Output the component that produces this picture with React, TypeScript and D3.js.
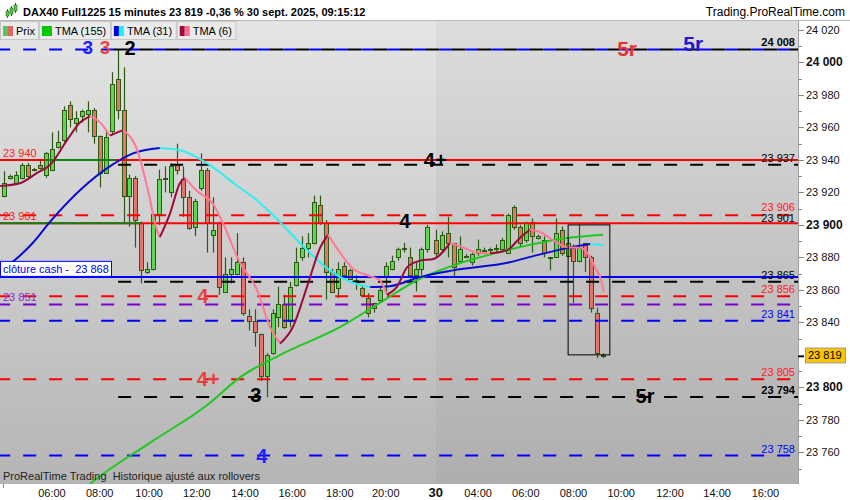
import React from 'react';
import * as d3 from 'd3';

const FONT = '"Liberation Sans", Arial, Helvetica, sans-serif';

// ---- data -----------------------------------------------------------
// candles: [open, high, low, close]; day 29 (04:00 -> 21:45), day 30 (-> 09:15)
const day29Start = 0;
const day29Candles: number[][] = [
  [23918, 23933, 23917, 23926], [23929, 23931, 23928, 23930], [23926, 23933, 23925, 23931], [23929, 23938, 23928, 23937],
  [23937, 23938, 23929, 23930], [23934, 23935, 23933, 23934.5], [23937, 23940, 23934, 23935], [23931, 23945, 23929, 23944],
  [23934, 23957, 23933, 23947], [23948, 23958, 23947, 23951], [23952, 23973, 23951, 23971], [23974, 23976, 23960, 23965],
  [23963, 23970, 23957, 23966], [23967, 23971, 23963, 23970], [23968, 23976, 23957, 23971], [23971, 23972, 23950, 23955],
  [23955, 23955, 23923, 23932], [23932, 23957, 23932, 23954], [23958, 23994, 23956, 23987], [23990, 24008, 23965, 23971],
  [23971, 23997, 23901, 23918], [23918, 23931, 23899, 23929], [23929, 23930, 23886, 23903], [23901, 23902, 23864, 23872],
  [23871, 23877, 23870, 23873], [23873, 23907, 23872, 23907], [23907, 23934, 23900, 23928], [23928, 23936, 23920, 23929],
  [23920, 23938, 23917, 23936], [23937, 23950, 23931, 23934], [23928, 23936, 23905, 23917], [23917, 23921, 23897, 23898],
  [23899, 23916, 23893, 23915], [23923, 23944, 23921, 23934], [23934, 23935, 23883, 23901], [23894, 23917, 23883, 23897],
  [23901, 23902, 23857, 23862], [23859, 23880, 23858, 23870], [23870, 23880, 23864, 23873], [23870, 23895, 23869, 23877],
  [23877, 23880, 23844, 23846], [23844, 23848, 23835, 23841], [23841, 23848, 23825, 23834], [23833, 23833, 23804, 23807],
  [23807, 23821, 23794, 23820], [23821, 23848, 23820, 23846], [23843, 23862, 23837, 23851], [23851, 23857, 23836, 23837],
  [23841, 23865, 23837, 23862], [23863, 23886, 23862, 23877], [23880, 23893, 23878, 23886], [23886, 23895, 23880, 23889],
  [23889, 23918, 23888, 23914], [23912, 23918, 23900, 23901], [23901, 23903, 23854, 23871], [23871, 23873, 23858, 23859],
  [23861, 23877, 23855, 23873], [23875, 23877, 23868, 23869], [23872, 23873, 23866, 23867], [23866, 23869, 23860, 23864],
  [23861, 23863, 23856, 23857], [23855, 23858, 23843, 23846], [23852, 23852, 23846, 23849], [23854, 23862, 23852, 23860],
  [23868, 23877, 23858, 23875], [23873, 23881, 23872, 23878], [23880, 23886, 23878, 23885], [23885, 23889, 23883, 23886],
  [23880, 23886, 23867, 23869], [23869, 23877, 23859, 23873], [23873, 23886, 23869, 23885], [23885, 23900, 23883, 23899],
];
const day30Start = 72.5;
const day30Candles: number[][] = [
  [23891, 23897, 23880, 23883], [23885, 23896, 23883, 23894], [23895, 23905, 23880, 23889], [23889, 23889, 23868, 23874],
  [23878, 23893, 23877, 23885], [23880.5, 23882, 23879.5, 23881], [23877, 23883, 23875, 23882], [23883, 23891, 23881, 23885],
  [23884, 23886, 23883, 23884.5], [23884.5, 23886, 23883, 23885], [23885, 23888, 23883, 23886], [23885, 23892, 23883, 23891],
  [23883, 23907, 23882, 23906], [23911, 23912, 23897, 23899], [23899, 23900, 23886, 23889], [23891, 23902, 23889, 23901],
  [23902, 23904, 23883, 23893], [23892, 23894, 23891, 23893], [23891, 23893, 23880, 23883], [23879.5, 23880, 23872, 23880],
  [23880, 23904, 23880, 23895], [23897, 23899, 23881, 23883], [23881, 23891, 23880, 23889], [23886, 23888, 23852, 23878],
  [23878, 23900, 23877, 23886], [23889, 23889, 23871, 23880], [23880, 23881, 23846, 23849], [23846, 23849, 23818, 23821],
  [23820, 23821, 23818, 23819],
];

// moving averages: [bar index, value]
const tma155: number[][] = [
  [12, 23733], [14.9, 23742], [24.5, 23766], [34, 23789], [39.5, 23806], [46.3, 23820], [56.3, 23837], [63, 23852],
  [69.8, 23867], [75.3, 23875], [84.4, 23884.5], [94.4, 23892], [100.5, 23894],
];
const tma31: number[][] = [
  [-0.7, 23872], [1.3, 23877], [4.8, 23889], [7.7, 23902], [13.2, 23923], [17.7, 23936], [21.6, 23944], [26.1, 23947.3],
  [29.5, 23946], [34, 23938], [38.4, 23926], [42.4, 23915], [45.1, 23906], [50.8, 23884.5], [54.6, 23872], [58, 23865],
  [61.4, 23861.7], [64.7, 23862.3], [69.8, 23868], [75.3, 23872], [84.8, 23877], [89.4, 23881.4], [94.4, 23885.7],
  [98.3, 23888.2], [100.5, 23887.6],
];
const tma6: number[][] = [
  [-0.7, 23924], [2.6, 23925.7], [5.5, 23932], [7.7, 23937], [10.5, 23952], [12.7, 23963], [14.4, 23967], [16.1, 23963],
  [17.7, 23955], [19.9, 23958.4], [22.3, 23946], [24, 23923], [25.6, 23897], [26.1, 23892.5], [27.8, 23907], [29.5, 23926],
  [30.3, 23929], [32.3, 23921], [35, 23913], [36.7, 23901], [39.5, 23877], [42.4, 23860], [44.6, 23837], [46.3, 23827],
  [48.4, 23837], [50.8, 23862], [53, 23886], [54.3, 23894], [56.3, 23883], [58.5, 23873], [60.9, 23869], [63, 23866],
  [64.2, 23857], [65.9, 23862], [67.6, 23874], [69.8, 23878], [72, 23879], [74.8, 23889], [77, 23886], [79.3, 23883],
  [81.5, 23882.5], [84.4, 23884.5], [86.5, 23892], [88.2, 23897], [89.9, 23895.6], [92.1, 23890.6], [94.4, 23886.3],
  [96.6, 23886], [97.8, 23883], [99.1, 23874], [100.3, 23864], [100.6, 23858.6],
];

// horizontal levels
const solidLevels = [
  { price: 23940, color: '#ff0000' },
  { price: 23901, color: '#ff0000' },
  { price: 23868, color: '#0000ff' },
];
const greenSegments = [
  { price: 23940, from: 6.8, to: 18.6 },
  { price: 23901, from: -1.5, to: 23.1 },
];
const dashedLevels = [
  { price: 24008, color: '#0000ff', from: -1.2 },
  { price: 24008, color: '#000000', from: 18.4 },
  { price: 23937, color: '#000000', from: 19.1 },
  { price: 23906, color: '#ff0000', from: -1.2 },
  { price: 23865, color: '#000000', from: 19.1 },
  { price: 23856, color: '#ff0000', from: -1.2 },
  { price: 23851, color: '#7a00cc', from: -1.2 },
  { price: 23841, color: '#0000ff', from: -1.2 },
  { price: 23805, color: '#ff0000', from: -1.2 },
  { price: 23794, color: '#000000', from: 19.1 },
  { price: 23758, color: '#0000ff', from: -1.2 },
];
const rightLabels = [
  { price: 24008, text: '24 008', color: '#000000', bold: true, lift: 3 },
  { price: 23937, text: '23 937', color: '#000000', bold: false, lift: 3 },
  { price: 23906, text: '23 906', color: '#ff2020', bold: false, lift: 4.5 },
  { price: 23901, text: '23 901', color: '#000000', bold: false, lift: 1.5 },
  { price: 23865, text: '23 865', color: '#000000', bold: false, lift: 3 },
  { price: 23856, text: '23 856', color: '#ff2020', bold: false, lift: 3 },
  { price: 23841, text: '23 841', color: '#0000ff', bold: false, lift: 3 },
  { price: 23805, text: '23 805', color: '#ff2020', bold: false, lift: 3 },
  { price: 23794, text: '23 794', color: '#000000', bold: true, lift: 3 },
  { price: 23758, text: '23 758', color: '#0000ff', bold: false, lift: 3 },
];
const leftLabels = [
  { price: 23940, text: '23 940', color: '#ff2020' },
  { price: 23901, text: '23 901', color: '#ff2020' },
  { price: 23851, text: '23 851', color: '#8a2be2' },
];
const waveLabels = [
  { i: 14.0, price: 24009, text: '3', color: '#1f1fff', size: 19 },
  { i: 16.9, price: 24009, text: '3', color: '#e84545', size: 19 },
  { i: 21.1, price: 24009, text: '2', color: '#000000', size: 20 },
  { i: 104.5, price: 24008.5, text: '5r', color: '#e83030', size: 21 },
  { i: 115.6, price: 24011.5, text: '5r', color: '#2418cc', size: 21 },
  { i: 72.3, price: 23940, text: '4+', color: '#000000', size: 20 },
  { i: 67.2, price: 23902.5, text: '4', color: '#000000', size: 20 },
  { i: 33.3, price: 23856, text: '4', color: '#e84040', size: 20 },
  { i: 34.2, price: 23805, text: '4+', color: '#e84040', size: 20 },
  { i: 42.2, price: 23795, text: '3', color: '#000000', size: 20 },
  { i: 107.5, price: 23794.5, text: '5r', color: '#000000', size: 20 },
  { i: 43.2, price: 23757.5, text: '4', color: '#1f1fff', size: 20 },
];
const boxRange = { i0: 94.6, i1: 101.6, top: 23900, bottom: 23820 };
const clotureCash = 23868;
const lastPrice = 23819;
const priceTicks = [24020, 24000, 23980, 23960, 23940, 23920, 23900, 23880, 23860, 23840, 23800, 23780, 23760];
const boldTicks = [24000, 23900, 23800];
const timeTicks = [
  { i: 8, label: '06:00' }, { i: 16, label: '08:00' }, { i: 24.3, label: '10:00' }, { i: 32.3, label: '12:00' },
  { i: 40.4, label: '14:00' }, { i: 48.3, label: '16:00' }, { i: 56.3, label: '18:00' }, { i: 64, label: '20:00' },
  { i: 79.5, label: '04:00' }, { i: 87.5, label: '06:00' }, { i: 95.5, label: '08:00' }, { i: 103.5, label: '10:00' },
  { i: 111.7, label: '12:00' }, { i: 119.6, label: '14:00' }, { i: 127.7, label: '16:00' },
];
const dayTick = { i: 72.4, label: '30' };
const legendItems = [
  { label: 'Prix', c1: '#55c855', c2: '#e06464' },
  { label: 'TMA (155)', c1: '#00c800', c2: '#00c800' },
  { label: 'TMA (31)', c1: '#0000dd', c2: '#22eeff' },
  { label: 'TMA (6)', c1: '#9a0a3a', c2: '#ff6a90' },
];

const fmt = (v: number) => `${Math.floor(v / 1000)} ${String(Math.round(v % 1000)).padStart(3, '0')}`;

function runs(pts: number[][]) {
  const out: { dir: number; pts: number[][] }[] = [];
  let cur = [pts[0]];
  let dir = 0;
  for (let k = 1; k < pts.length; k++) {
    const d = pts[k][1] >= pts[k - 1][1] ? 1 : -1;
    if (dir === 0 || d === dir) {
      cur.push(pts[k]);
      dir = d;
    } else {
      out.push({ dir, pts: cur });
      cur = [pts[k - 1], pts[k]];
      dir = d;
    }
  }
  out.push({ dir, pts: cur });
  return out;
}

function measure(text: string, font: string) {
  try {
    const c = document.createElement('canvas').getContext('2d');
    if (c) {
      c.font = font;
      return c.measureText(text).width;
    }
  } catch (e) {
    /* ignore */
  }
  return text.length * 5.6;
}

export default function App() {
  const W = 850, H = 500;
  const PL = 0, PR = 798, PT = 21, PB = 484;
  const xs = d3.scaleLinear().domain([0, 100]).range([4.3, 600.3]);
  const ys = d3.scaleLinear().domain([23760, 24020]).range([452.3, 30]);
  const line = d3.line<number[]>().x((d) => xs(d[0])).y((d) => ys(d[1])).curve(d3.curveMonotoneX);

  const candles = [
    ...day29Candles.map((c, k) => ({ i: day29Start + k, o: c[0], h: c[1], l: c[2], c: c[3] })),
    ...day30Candles.map((c, k) => ({ i: day30Start + k, o: c[0], h: c[1], l: c[2], c: c[3] })),
  ];
  const OUT = '#2c5a12', GREEN = '#5fd654', RED = '#e5746a';

  const maSeries = [
    { pts: tma155, up: '#1ec81e', down: '#1ec81e' },
    { pts: tma31, up: '#0a0ad0', down: '#30eef0' },
    { pts: tma6, up: '#9a0a3a', down: '#ff7895' },
  ];

  const minorTicks = d3.range(23750, 24021, 10);
  const yLast = ys(lastPrice);

  // legend box layout
  let lx = 0;
  const legendBoxes = legendItems.map((it) => {
    const w = measure(it.label, '11px "Liberation Sans", Arial, sans-serif') + 19;
    const b = { ...it, x: lx, w };
    lx += w + 1;
    return b;
  });

  return (
    <svg width={W} height={H} style={{ position: 'absolute', left: 0, top: 0, fontFamily: FONT }}>
      <defs>
        <linearGradient id="bg" x1="0" y1="0" x2="0" y2="1">
          <stop offset="0%" stopColor="#e5e5e5" />
          <stop offset="100%" stopColor="#b5b5b5" />
        </linearGradient>
        <clipPath id="plot">
          <rect x={PL} y={PT} width={PR - PL} height={PB - PT} />
        </clipPath>
      </defs>
      <rect x={0} y={0} width={W} height={H} fill="#ffffff" />
      <rect x={PL} y={PT} width={PR - PL} height={PB - PT} fill="url(#bg)" />
      <rect x={xs(dayTick.i)} y={PT} width={PR - xs(dayTick.i)} height={PB - PT} fill="#000" opacity={0.035} />

      <g clipPath="url(#plot)">
        {/* candles */}
        {candles.map((d, k) => {
          const cx = Math.round(xs(d.i)) + 0.5;
          const up = d.c >= d.o;
          const yTop = Math.round(ys(Math.max(d.o, d.c))) + 0.5;
          const yBot = Math.round(ys(Math.min(d.o, d.c))) + 0.5;
          const hgt = Math.max(1, yBot - yTop);
          return (
            <g key={k}>
              <line x1={cx} x2={cx} y1={ys(d.h)} y2={ys(d.l)} stroke={OUT} strokeWidth={1.2} />
              <rect x={cx - 2} y={yTop} width={4} height={hgt} fill={up ? GREEN : RED} stroke={OUT} strokeWidth={1} />
            </g>
          );
        })}

        {/* solid levels */}
        {solidLevels.map((l, k) => (
          <line key={'s' + k} x1={PL} x2={PR} y1={ys(l.price)} y2={ys(l.price)} stroke={l.color} strokeWidth={2} />
        ))}
        {greenSegments.map((g, k) => (
          <line key={'g' + k} x1={xs(g.from)} x2={xs(g.to)} y1={ys(g.price)} y2={ys(g.price)} stroke="#118011" strokeWidth={2} />
        ))}
        {dashedLevels.map((l, k) => (
          <line key={'d' + k} x1={xs(l.from)} x2={PR} y1={ys(l.price)} y2={ys(l.price)} stroke={l.color} strokeWidth={2} strokeDasharray="13 13" />
        ))}

        {/* moving averages */}
        {maSeries.map((s, k) =>
          runs(s.pts).map((r, j) => (
            <path key={k + '-' + j} d={line(r.pts) || ''} fill="none" stroke={r.dir > 0 ? s.up : s.down} strokeWidth={2} strokeLinejoin="round" />
          ))
        )}

        {/* box */}
        <rect x={xs(boxRange.i0)} y={ys(boxRange.top)} width={xs(boxRange.i1) - xs(boxRange.i0)} height={ys(boxRange.bottom) - ys(boxRange.top)} fill="none" stroke="#000" strokeWidth={1} />

        {/* wave labels */}
        {waveLabels.map((w, k) => (
          <text key={'w' + k} x={xs(w.i)} y={ys(w.price)} textAnchor="middle" dominantBaseline="central" fontSize={w.size} fontWeight="bold" fill={w.color}>
            {w.text}
          </text>
        ))}

        {/* right labels */}
        {rightLabels.map((r, k) => (
          <text key={'r' + k} x={795} y={ys(r.price) - r.lift} textAnchor="end" fontSize={11} fontWeight={r.bold ? 'bold' : 'normal'} fill={r.color}>
            {r.text}
          </text>
        ))}
        {leftLabels.map((r, k) => (
          <text key={'l' + k} x={3} y={ys(r.price) - 3} fontSize={11} fill={r.color}>
            {r.text}
          </text>
        ))}

        {/* cloture cash */}
        <rect x={0.5} y={ys(clotureCash) - 15.5} width={111} height={15} fill="#ffffff" stroke="#0000ff" strokeWidth={1} />
        <text x={3} y={ys(clotureCash) - 4} fontSize={11} fill="#0000ff">{`clôture cash -\u00a0\u00a0${fmt(clotureCash)}`}</text>

        <text x={3} y={480} fontSize={11} fill="#222">{'ProRealTime Trading\u00a0\u00a0Historique ajusté aux rollovers'}</text>
      </g>

      {/* right axis */}
      <rect x={PR} y={PT} width={W - PR} height={PB - PT} fill="#ffffff" />
      <line x1={PR + 0.5} x2={PR + 0.5} y1={PT} y2={PB} stroke="#a0a0a0" strokeWidth={1} />
      {minorTicks.map((p) => (
        <line key={'mt' + p} x1={PR} x2={PR + (p % 20 === 0 ? 6 : 4)} y1={Math.round(ys(p)) + 0.5} y2={Math.round(ys(p)) + 0.5} stroke="#8a8a8a" strokeWidth={1} />
      ))}
      {priceTicks.map((p) => {
        const b = boldTicks.includes(p);
        return (
          <text key={'pt' + p} x={806} y={ys(p)} dominantBaseline="central" fontSize={b ? 12 : 11} fontWeight={b ? 'bold' : 'normal'} fill="#111">
            {fmt(p)}
          </text>
        );
      })}
      <line x1={PR} x2={PR + 6} y1={Math.round(yLast) + 0.5} y2={Math.round(yLast) + 0.5} stroke="#000" strokeWidth={1.5} />
      <rect x={805.5} y={yLast - 8.5} width={40} height={15} fill="#f7c400" stroke="#a0a0a0" strokeWidth={1} />
      <text x={808} y={yLast - 1} dominantBaseline="central" fontSize={11} fill="#000">{fmt(lastPrice)}</text>

      {/* bottom axis */}
      <rect x={0} y={PB} width={W} height={H - PB} fill="#ffffff" />
      {timeTicks.map((t, k) => (
        <text key={'tt' + k} x={xs(t.i)} y={492.5} textAnchor="middle" dominantBaseline="central" fontSize={11} fill="#111">
          {t.label}
        </text>
      ))}
      <text x={xs(dayTick.i)} y={492} textAnchor="middle" dominantBaseline="central" fontSize={13} fontWeight="bold" fill="#111">
        {dayTick.label}
      </text>
      <line x1={3.5} x2={3.5} y1={PB} y2={PB + 4} stroke="#888" />

      {/* header */}
      <rect x={0} y={0} width={W} height={20} fill="#ffffff" />
      <line x1={0} x2={W} y1={20.5} y2={20.5} stroke="#b8b8b8" strokeWidth={1} />
      <g>
        <line x1={7.5} x2={7.5} y1={9} y2={18} stroke="#2c6a12" />
        <rect x={6} y={11} width={3} height={5} fill="#55c855" stroke="#2c6a12" strokeWidth={0.6} />
        <line x1={11.5} x2={11.5} y1={6} y2={16} stroke="#2c6a12" />
        <rect x={10} y={8} width={3} height={6} fill="#55c855" stroke="#2c6a12" strokeWidth={0.6} />
        <line x1={15.5} x2={15.5} y1={3} y2={13} stroke="#2c6a12" />
        <rect x={14} y={5} width={3} height={6} fill="#55c855" stroke="#2c6a12" strokeWidth={0.6} />
      </g>
      <text x={23} y={16} fontSize={11} fontWeight="bold" fill="#000">
        DAX40 Full1225 15 minutes 23 819 -0,36 % 30 sept. 2025, 09:15:12
      </text>
      <text x={845} y={16} textAnchor="end" fontSize={12} fill="#000">Trading.ProRealTime.com</text>

      {/* legend boxes */}
      {legendBoxes.map((b, k) => (
        <g key={'lg' + k}>
          <rect x={b.x + 0.5} y={21.5} width={b.w} height={18} fill="#ebebeb" stroke="#c6c6c6" strokeWidth={1} />
          <rect x={b.x + 3} y={26} width={5} height={10} fill={b.c1} />
          <rect x={b.x + 8} y={26} width={5} height={10} fill={b.c2} />
          <text x={b.x + 16} y={35} fontSize={11} fill="#000">{b.label}</text>
        </g>
      ))}
    </svg>
  );
}
